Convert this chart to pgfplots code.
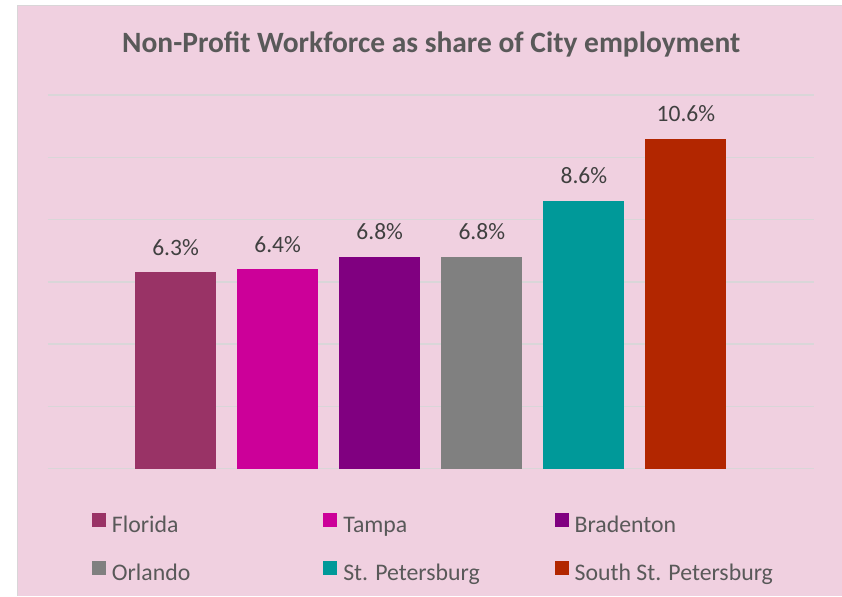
\documentclass[border=0pt]{standalone}
\usepackage{pgfplots}
\pgfplotsset{compat=1.18}
\usepackage{fontspec}
\setmainfont{Carlito}
\definecolor{bgpink}{HTML}{F0D0E0}
\definecolor{gridc}{HTML}{D9D6D8}
\definecolor{titlec}{HTML}{595959}
\definecolor{labc}{HTML}{404040}
\definecolor{cFlorida}{HTML}{993366}
\definecolor{cTampa}{HTML}{CC0099}
\definecolor{cBrad}{HTML}{800080}
\definecolor{cOrl}{HTML}{808080}
\definecolor{cStP}{HTML}{009999}
\definecolor{cSSP}{HTML}{B22600}
\begin{document}
\begin{tikzpicture}[x=1bp,y=1bp]
\path (0,0) rectangle (842,596);
\fill[bgpink] (18,0) rectangle (842,590);
\draw[gridc,line width=1bp] (18,0) -- (18,590) -- (842,590);
\node[anchor=base,text=titlec,font=\fontsize{29.5bp}{35bp}\selectfont\bfseries] at (431.5,543) {Non-Profit Workforce as share of City employment};
\begin{axis}[
  at={(48bp,127bp)}, anchor=south west,
  scale only axis, width=766bp, height=374bp,
  xmin=-1.25, xmax=6.25, ymin=0, ymax=12,
  ybar, bar width=81bp, bar shift=0pt,
  axis line style={draw=none}, tick style={draw=none},
  xtick=\empty, ytick={0,2,4,6,8,10,12}, yticklabels={},
  ymajorgrids, grid style={gridc, line width=1.4bp},
  /pgf/number format/assume math mode=true,
  nodes near coords={\pgfmathprintnumber[fixed,fixed zerofill,precision=1]{\pgfplotspointmeta}\%},
  every node near coord/.append style={anchor=base, yshift=17bp, inner sep=0pt, text=labc, font=\fontsize{23.5bp}{28bp}\selectfont},
  legend columns=3,
  legend image code/.code={\fill[#1] (0bp,0bp) rectangle (14bp,14bp);},
  legend style={at={(rel axis cs:0.05744,-0.11765)}, anchor=north west, draw=none, fill=none, inner sep=0pt, outer sep=0pt,
    column sep=6bp, row sep=24bp, font=\fontsize{23.8bp}{28bp}\selectfont, text=titlec,
    nodes={inner sep=0pt, text height=16bp, text depth=5bp},
    /tikz/every even column/.append style={column sep=0bp}},
  legend cell align=left,
]
\addplot[fill=cFlorida, draw=none] coordinates {(0,6.3)};
\addlegendentry{\makebox[211.5bp][l]{Florida}}
\addplot[fill=cTampa, draw=none] coordinates {(1,6.4)};
\addlegendentry{\makebox[211.5bp][l]{Tampa}}
\addplot[fill=cBrad, draw=none] coordinates {(2,6.8)};
\addlegendentry{\makebox[211.5bp][l]{Bradenton}}
\addplot[fill=cOrl, draw=none] coordinates {(3,6.8)};
\addlegendentry{\makebox[211.5bp][l]{Orlando}}
\addplot[fill=cStP, draw=none] coordinates {(4,8.6)};
\addlegendentry{\makebox[211.5bp][l]{St. Petersburg}}
\addplot[fill=cSSP, draw=none] coordinates {(5,10.6)};
\addlegendentry{South St. Petersburg}
\end{axis}
\end{tikzpicture}
\end{document}
